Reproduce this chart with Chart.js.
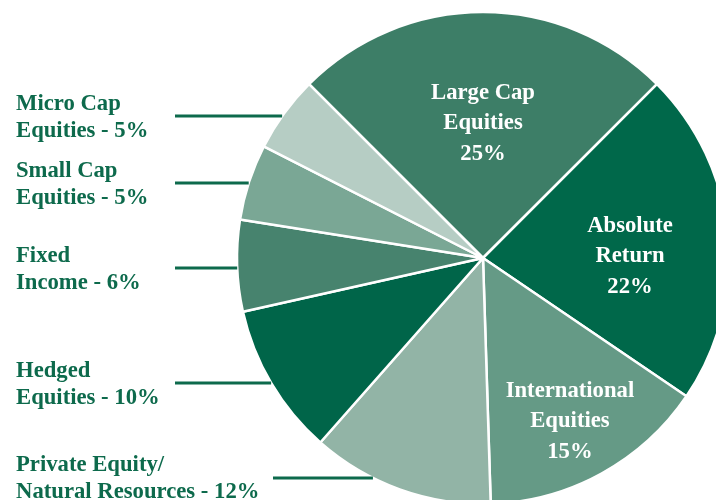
<!DOCTYPE html>
<html>
<head>
<meta charset="utf-8">
<script src="https://cdn.jsdelivr.net/npm/chart.js@4/dist/chart.umd.min.js"></script>
<style>
  html, body { margin: 0; padding: 0; background: #ffffff; overflow: hidden; }
  #wrap { position: relative; width: 716px; height: 500px; }
</style>
</head>
<body>
<div id="wrap"><canvas id="c" width="716" height="500"></canvas></div>
<script>
// ---- data ----
const categories = [
  "Large Cap Equities",
  "Absolute Return",
  "International Equities",
  "Private Equity/Natural Resources",
  "Hedged Equities",
  "Fixed Income",
  "Small Cap Equities",
  "Micro Cap Equities"
];
const values = [25, 22, 15, 12, 10, 6, 5, 5];
const sliceColors = ["#3d7e67", "#00684a", "#659a86", "#92b4a6", "#006549", "#47836e", "#7aa795", "#b6cdc4"];

// label texts
const insideLabels = {
  0: ["Large Cap", "Equities", "25%"],
  1: ["Absolute", "Return", "22%"],
  2: ["International", "Equities", "15%"]
};
const outsideLabels = {
  7: ["Micro Cap", "Equities - 5%"],
  6: ["Small Cap", "Equities - 5%"],
  5: ["Fixed", "Income - 6%"],
  4: ["Hedged", "Equities - 10%"],
  3: ["Private Equity/", "Natural Resources - 12%"]
};

// ---- label layout (positions kept separate from data) ----
const insidePlacement = {
  0: { r: 0.524, dA: 0 },
  1: { r: 0.598, dA: 7 },
  2: { r: 0.773, dA: 1.6 }
};
const outsidePlacement = {
  7: { firstBaseline: 110, lineY: 116, lineStart: 175 },
  6: { firstBaseline: 177, lineY: 183, lineStart: 175 },
  5: { firstBaseline: 262, lineY: 268, lineStart: 175 },
  4: { firstBaseline: 377, lineY: 383, lineStart: 175 },
  3: { firstBaseline: 471, lineY: 478, lineStart: 273 }
};

const FONT = "bold 22.7px 'Liberation Serif', 'Times New Roman', serif";
const TEXT_GREEN = "#0d6a4c";

const labelPlugin = {
  id: 'labels',
  afterDatasetsDraw(chart) {
    const ctx = chart.ctx;
    const arcs = chart.getDatasetMeta(0).data;
    ctx.save();
    ctx.font = FONT;
    // inside labels
    ctx.fillStyle = "#ffffff";
    ctx.textAlign = "center";
    ctx.textBaseline = "alphabetic";
    Object.keys(insideLabels).forEach(k => {
      const i = +k;
      const a = arcs[i];
      const p = insidePlacement[i];
      const mid = (a.startAngle + a.endAngle) / 2 + p.dA * Math.PI / 180;
      const cx = a.x + Math.cos(mid) * a.outerRadius * p.r;
      const cy = a.y + Math.sin(mid) * a.outerRadius * p.r;
      const lines = insideLabels[i];
      const lh = 30.5;
      lines.forEach((t, j) => {
        ctx.fillText(t, cx, cy + (j - 1) * lh);
      });
    });
    // outside labels with leader lines
    ctx.textAlign = "left";
    Object.keys(outsideLabels).forEach(k => {
      const i = +k;
      const a = arcs[i];
      const p = outsidePlacement[i];
      ctx.fillStyle = TEXT_GREEN;
      outsideLabels[i].forEach((t, j) => {
        ctx.fillText(t, 16, p.firstBaseline + j * 26.5);
      });
      const dy = p.lineY - a.y;
      const R = a.outerRadius;
      const edgeX = a.x - Math.sqrt(Math.max(R * R - dy * dy, 0));
      ctx.strokeStyle = TEXT_GREEN;
      ctx.lineWidth = 3;
      ctx.beginPath();
      ctx.moveTo(p.lineStart, p.lineY);
      ctx.lineTo(edgeX, p.lineY);
      ctx.stroke();
    });
    ctx.restore();
  }
};

new Chart(document.getElementById('c'), {
  type: 'pie',
  data: {
    labels: categories,
    datasets: [{
      data: values,
      backgroundColor: sliceColors,
      borderColor: "#ffffff",
      borderWidth: 2.5,
      radius: 246,
      clip: false
    }]
  },
  options: {
    responsive: false,
    animation: false,
    events: [],
    rotation: -45,
    layout: { padding: { left: 250, right: 0, top: 16, bottom: 0 } },
    plugins: {
      legend: { display: false },
      tooltip: { enabled: false }
    }
  },
  plugins: [labelPlugin]
});
</script>
</body>
</html>
